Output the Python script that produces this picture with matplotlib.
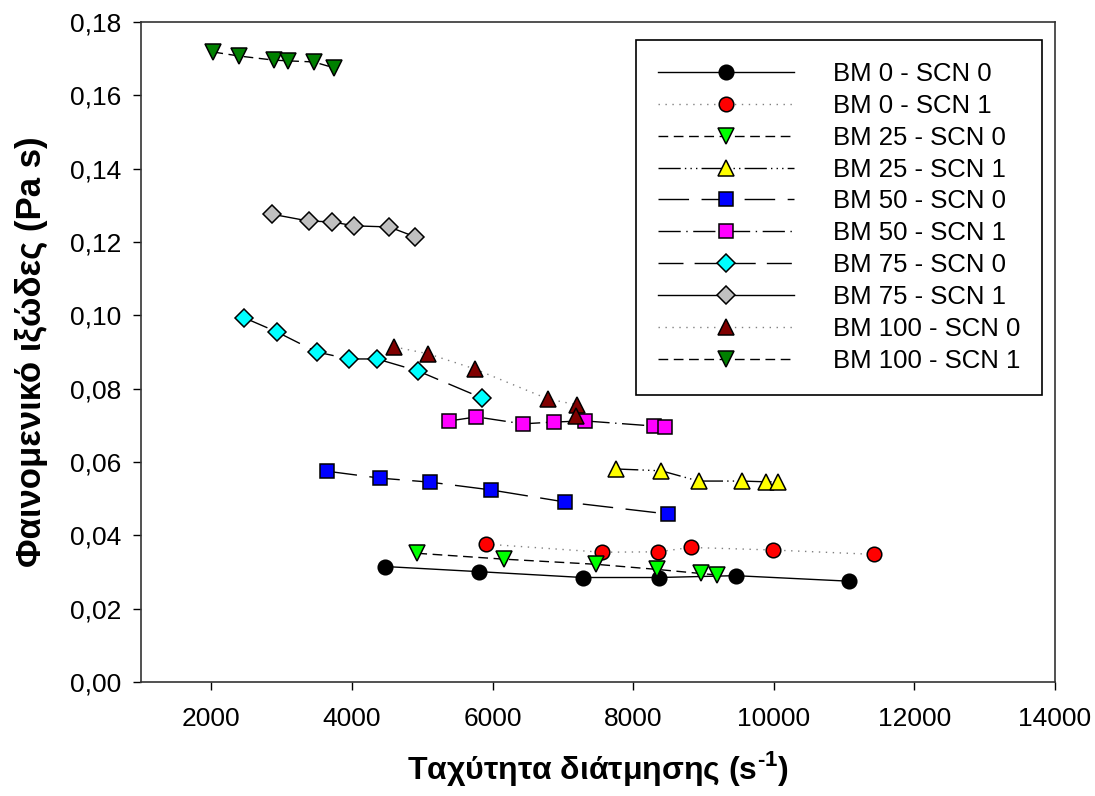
import matplotlib
matplotlib.use("Agg")
import matplotlib.pyplot as plt
from matplotlib.ticker import FuncFormatter

plt.rcParams['font.family'] = ['Liberation Sans', 'DejaVu Sans']
plt.rcParams['mathtext.fontset'] = 'custom'
plt.rcParams['mathtext.rm'] = 'Liberation Sans'
plt.rcParams['mathtext.bf'] = 'Liberation Sans:bold'

# shear rate (s^-1) and apparent viscosity (Pa s)
bm0_scn0_x = [4467, 5801, 7282, 8370, 9459, 11065]
bm0_scn0_y = [0.0315, 0.0301, 0.0285, 0.0285, 0.0290, 0.0275]
bm0_scn1_x = [5909, 7553, 8354, 8817, 9987, 11430]
bm0_scn1_y = [0.0376, 0.0354, 0.0355, 0.0367, 0.0360, 0.0348]
bm25_scn0_x = [4930, 6165, 7472, 8343, 8959, 9186]
bm25_scn0_y = [0.0351, 0.0335, 0.0321, 0.0307, 0.0296, 0.0292]
bm25_scn1_x = [7757, 8400, 8929, 9543, 9886, 10057]
bm25_scn1_y = [0.0581, 0.0576, 0.0548, 0.0548, 0.0546, 0.0546]
bm50_scn0_x = [3640, 4400, 5114, 5971, 7029, 8500]
bm50_scn0_y = [0.0575, 0.0556, 0.0545, 0.0524, 0.0491, 0.0458]
bm50_scn1_x = [5386, 5771, 6429, 6871, 7314, 8300, 8457]
bm50_scn1_y = [0.0712, 0.0723, 0.0704, 0.0709, 0.0712, 0.0698, 0.0696]
bm75_scn0_x = [2471, 2929, 3500, 3957, 4357, 4943, 5843]
bm75_scn0_y = [0.0993, 0.0955, 0.0900, 0.0881, 0.0881, 0.0848, 0.0775]
bm75_scn1_x = [2857, 3386, 3714, 4029, 4529, 4900]
bm75_scn1_y = [0.1276, 0.1257, 0.1255, 0.1244, 0.1241, 0.1214]
bm100_scn0_x = [4600, 5086, 5743, 6786, 7200, 7186]
bm100_scn0_y = [0.0914, 0.0895, 0.0854, 0.0772, 0.0756, 0.0726]
bm100_scn1_x = [2029, 2400, 2886, 3086, 3457, 3743]
bm100_scn1_y = [0.1718, 0.1707, 0.1696, 0.1694, 0.1691, 0.1675]

labels = ['BM 0 - SCN 0', 'BM 0 - SCN 1', 'BM 25 - SCN 0', 'BM 25 - SCN 1',
          'BM 50 - SCN 0', 'BM 50 - SCN 1', 'BM 75 - SCN 0', 'BM 75 - SCN 1',
          'BM 100 - SCN 0', 'BM 100 - SCN 1']
xs = [bm0_scn0_x, bm0_scn1_x, bm25_scn0_x, bm25_scn1_x, bm50_scn0_x,
      bm50_scn1_x, bm75_scn0_x, bm75_scn1_x, bm100_scn0_x, bm100_scn1_x]
ys = [bm0_scn0_y, bm0_scn1_y, bm25_scn0_y, bm25_scn1_y, bm50_scn0_y,
      bm50_scn1_y, bm75_scn0_y, bm75_scn1_y, bm100_scn0_y, bm100_scn1_y]

colors = ['black', 'red', '#00ff00', 'yellow', 'blue', 'magenta', 'cyan',
          '#c0c0c0', '#800000', '#008000']
markers = ['o', 'o', 'v', '^', 's', 's', 'D', 'D', '^', 'v']
msizes = [10.5, 10.5, 11.5, 11.5, 9.5, 9.5, 9.5, 9.5, 11.5, 11.5]
styles = ['-', (0, (1, 4)), (0, (7, 4)), (0, (16, 3, 1, 3, 1, 3, 1, 3)),
          (0, (22, 9)), (0, (16, 4, 1, 4)), (0, (18, 8)), '-',
          (0, (1, 4)), (0, (7, 4))]
line_colors = ['black', '#808080', 'black', 'black', 'black', 'black',
               'black', 'black', '#808080', 'black']

fig = plt.figure(figsize=(10.95, 7.96), dpi=100)
ax = fig.add_axes([0.1288, 0.1432, 0.8347, 0.8292])

for i in range(len(labels)):
    ax.plot(xs[i], ys[i], linestyle=styles[i], color=line_colors[i], lw=1.0,
            marker=markers[i], markersize=msizes[i], markerfacecolor=colors[i],
            markeredgecolor='black', markeredgewidth=1.1, label=labels[i])

ax.set_xlim(1000, 14000)
ax.set_ylim(0, 0.18)
ax.set_xticks(range(2000, 14001, 2000))
ax.set_yticks([i * 0.02 for i in range(10)])
ax.yaxis.set_major_formatter(FuncFormatter(lambda v, p: ('%.2f' % v).replace('.', ',')))
ax.tick_params(direction='out', length=6, width=1.0, labelsize=19, pad=8)
ax.tick_params(axis='x', pad=12)
for s in ax.spines.values():
    s.set_linewidth(1.2)
    s.set_color('#333333')

ax.set_xlabel('Ταχύτητα διάτμησης (s$^{\\mathbf{\u20101}}$)', fontsize=23,
              fontweight='bold', labelpad=13)
ax.set_ylabel('Φαινομενικό ιξώδες (Pa s)', fontsize=25, fontweight='bold',
              labelpad=16)

leg = ax.legend(loc='upper right', bbox_to_anchor=(0.986, 0.973), fontsize=18.5,
                frameon=True, fancybox=False, edgecolor='black', framealpha=1,
                handlelength=5.3, handletextpad=1.5, labelspacing=0.31,
                borderpad=0.85, borderaxespad=0, numpoints=1)
leg.get_frame().set_linewidth(1.2)

fig.savefig('out.png', dpi=100)
